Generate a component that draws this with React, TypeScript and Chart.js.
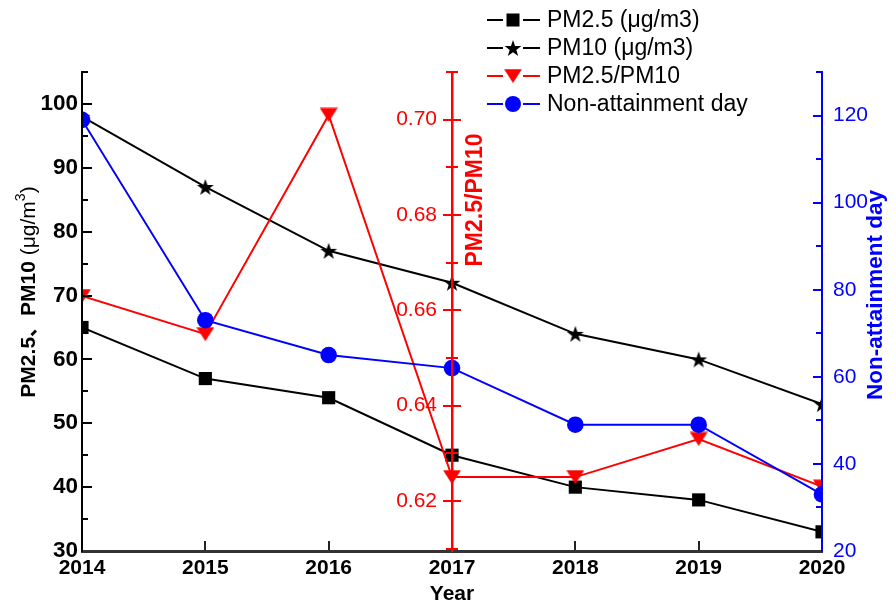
import { useEffect, useRef } from "react";
import { Chart, registerables } from "chart.js";

Chart.register(...registerables);

// Annual air-quality series
const years = [2014, 2015, 2016, 2017, 2018, 2019, 2020];
const pm25 = [65, 57, 54, 45, 40, 38, 33];
const pm10 = [98, 87, 77, 72, 64, 60, 53];
const pmRatio = [0.663, 0.655, 0.701, 0.625, 0.625, 0.633, 0.623];
const nonAttainmentDays = [119, 73, 65, 62, 49, 49, 33];

const seriesNames = ["PM2.5 (μg/m3)", "PM10 (μg/m3)", "PM2.5/PM10", "Non-attainment day"];
const ratioTickLabels = ["0.62", "0.64", "0.66", "0.68", "0.70"];

const FONT = '"Liberation Sans", Arial, "Noto Sans CJK SC", sans-serif';
const RED = "#ff0000";
const BLUE = "#0000ff";

function markerCanvas(w: number, h: number, paint: (ctx: CanvasRenderingContext2D) => void) {
  const c = document.createElement("canvas");
  c.width = w;
  c.height = h;
  const ctx = c.getContext("2d") as CanvasRenderingContext2D;
  paint(ctx);
  return c;
}

// filled five-point star
const starMarker = markerCanvas(18, 18, (ctx) => {
  ctx.fillStyle = "#000";
  ctx.beginPath();
  for (let i = 0; i < 10; i++) {
    const r = i % 2 === 0 ? 8.8 : 3.5;
    const a = -Math.PI / 2 + (i * Math.PI) / 5;
    const px = 9 + r * Math.cos(a);
    const py = 9.8 + r * Math.sin(a);
    if (i === 0) ctx.moveTo(px, py);
    else ctx.lineTo(px, py);
  }
  ctx.closePath();
  ctx.fill();
});

// filled downward triangle
const triangleMarker = markerCanvas(18, 15, (ctx) => {
  ctx.fillStyle = RED;
  ctx.beginPath();
  ctx.moveTo(0, 0.5);
  ctx.lineTo(18, 0.5);
  ctx.lineTo(9, 14.5);
  ctx.closePath();
  ctx.fill();
});

function seg(ctx: CanvasRenderingContext2D, x1: number, y1: number, x2: number, y2: number) {
  ctx.beginPath();
  ctx.moveTo(x1, y1);
  ctx.lineTo(x2, y2);
  ctx.stroke();
}

// scale layers drawn after the series
const onTop = { z: 1 };

const decorations = {
  id: "decorations",
  afterDatasetsDraw(chart: any) {
    const { ctx, chartArea: area, scales, width, height } = chart;
    // markers at the first and last year stop at the plot frame;
    // tick labels and axis lines are drawn after this (z: 1)
    ctx.clearRect(0, 0, width, area.top);
    ctx.clearRect(0, area.bottom, width, height - area.bottom);
    ctx.clearRect(0, area.top, area.left, area.bottom - area.top);
    ctx.clearRect(area.right, area.top, width - area.right, area.bottom - area.top);

    const sx = scales.x;
    const sy = scales.y;
    const sd = scales.yDays;
    ctx.save();
    // left axis: inward ticks, long on tens
    ctx.strokeStyle = "#000";
    ctx.lineWidth = 2;
    for (let v = 30; v <= 105; v += 5) {
      const py = Math.round(sy.getPixelForValue(v));
      seg(ctx, area.left, py, area.left + (v % 10 === 0 ? 10 : 6), py);
    }
    // bottom axis: upward ticks at every year
    ctx.strokeStyle = "#222";
    for (const yr of years) {
      const px = Math.round(sx.getPixelForValue(yr));
      seg(ctx, px, area.bottom, px, area.bottom - 10);
    }
    // right axis: inward ticks
    ctx.strokeStyle = BLUE;
    for (let v = 20; v <= 130; v += 10) {
      const py = Math.round(sd.getPixelForValue(v));
      seg(ctx, area.right, py, area.right - (v % 20 === 0 ? 9 : 6), py);
    }
    ctx.restore();
  },
  afterDraw(chart: any) {
    const { ctx, chartArea: area, scales } = chart;
    const sx = scales.x;
    const sr = scales.yRatio;
    ctx.save();

    // ratio axis: crossing ticks and labels
    const ax = Math.round(sx.getPixelForValue(2017));
    ctx.strokeStyle = RED;
    ctx.lineWidth = 2;
    for (let k = 61; k <= 71; k++) {
      const v = k / 100;
      if (v < sr.min || v > sr.max + 1e-9) continue;
      const py = Math.round(sr.getPixelForValue(v));
      const half = k % 2 === 0 ? 9 : 6;
      seg(ctx, ax - half, py, ax + half, py);
    }
    ctx.fillStyle = RED;
    ctx.font = `21px ${FONT}`;
    ctx.textAlign = "right";
    ctx.textBaseline = "middle";
    for (const t of ratioTickLabels) {
      ctx.fillText(t, ax - 15, sr.getPixelForValue(parseFloat(t)));
    }

    // axis titles
    ctx.textAlign = "center";
    ctx.fillStyle = "#000";
    ctx.font = `bold 21px ${FONT}`;
    ctx.fillText("Year", (area.left + area.right) / 2, 594);

    ctx.save();
    ctx.translate(476, 200);
    ctx.rotate(-Math.PI / 2);
    ctx.fillStyle = RED;
    ctx.font = `bold 23px ${FONT}`;
    ctx.fillText("PM2.5/PM10", 0, 0);
    ctx.restore();

    ctx.save();
    ctx.translate(876, 295);
    ctx.rotate(-Math.PI / 2);
    ctx.fillStyle = BLUE;
    ctx.font = `bold 22.5px ${FONT}`;
    ctx.fillText("Non-attainment day", 0, 0);
    ctx.restore();

    ctx.save();
    ctx.translate(29, 292);
    ctx.rotate(-Math.PI / 2);
    ctx.fillStyle = "#000";
    ctx.textAlign = "left";
    const parts = [
      { t: "PM2.5、PM10 ", f: `bold 21px ${FONT}`, dy: 0 },
      { t: "(μg/m", f: `21px ${FONT}`, dy: 0 },
      { t: "3", f: `14px ${FONT}`, dy: -8 },
      { t: ")", f: `21px ${FONT}`, dy: 0 },
    ];
    let total = 0;
    for (const p of parts) {
      ctx.font = p.f;
      total += ctx.measureText(p.t).width;
    }
    let cx = -total / 2;
    for (const p of parts) {
      ctx.font = p.f;
      ctx.fillText(p.t, cx, p.dy);
      cx += ctx.measureText(p.t).width;
    }
    ctx.restore();

    // legend
    const rows = [20, 48, 76, 104];
    const lx1 = 487;
    const lx2 = 540;
    const mx = 513;
    chart.data.datasets.forEach((ds: any, i: number) => {
      const y = rows[i];
      ctx.strokeStyle = ds.borderColor;
      ctx.lineWidth = 2;
      seg(ctx, lx1, y, mx - 10, y);
      seg(ctx, mx + 10, y, lx2, y);
      ctx.fillStyle = ds.backgroundColor;
      if (ds.pointStyle === "rect") {
        ctx.fillRect(mx - 6.5, y - 6.5, 13, 13);
      } else if (ds.pointStyle === "circle") {
        ctx.beginPath();
        ctx.arc(mx, y, 8, 0, Math.PI * 2);
        ctx.fill();
      } else {
        const img = ds.pointStyle as HTMLCanvasElement;
        ctx.drawImage(img, mx - img.width / 2, y - img.height / 2);
      }
      ctx.fillStyle = "#000";
      ctx.font = `23px ${FONT}`;
      ctx.textAlign = "left";
      ctx.textBaseline = "middle";
      ctx.fillText(ds.label, 547, y + 1);
    });

    ctx.restore();
  },
};

export default function App() {
  const canvasRef = useRef<HTMLCanvasElement | null>(null);

  useEffect(() => {
    document.body.style.margin = "0";
    const canvas = canvasRef.current;
    if (!canvas) return;

    const pts = (vals: number[]) => years.map((x, i) => ({ x, y: vals[i] }));

    const chart = new Chart(canvas, {
      type: "line",
      data: {
        datasets: [
          {
            label: seriesNames[0],
            data: pts(pm25),
            yAxisID: "y",
            borderColor: "#000",
            backgroundColor: "#000",
            borderWidth: 2,
            pointStyle: "rect",
            pointRadius: 9.3,
            pointBorderWidth: 0,
            order: 3,
          },
          {
            label: seriesNames[1],
            data: pts(pm10),
            yAxisID: "y",
            borderColor: "#000",
            backgroundColor: "#000",
            borderWidth: 2,
            pointStyle: starMarker as any,
            pointRadius: 9,
            order: 2,
          },
          {
            label: seriesNames[2],
            data: pts(pmRatio),
            yAxisID: "yRatio",
            borderColor: RED,
            backgroundColor: RED,
            borderWidth: 2,
            pointStyle: triangleMarker as any,
            pointRadius: 9,
            order: 1,
          },
          {
            label: seriesNames[3],
            data: pts(nonAttainmentDays),
            yAxisID: "yDays",
            borderColor: BLUE,
            backgroundColor: BLUE,
            borderWidth: 2,
            pointStyle: "circle",
            pointRadius: 8.3,
            pointBorderWidth: 0,
            order: 0,
          },
        ] as any,
      },
      options: {
        animation: false,
        responsive: false,
        devicePixelRatio: 1,
        layout: { padding: { top: 72, left: 0, right: 0, bottom: 0 } },
        plugins: { legend: { display: false }, tooltip: { enabled: false } },
        scales: {
          x: {
            type: "linear",
            position: "bottom",
            min: 2014,
            max: 2020,
            grid: { display: false, drawTicks: false },
            border: { color: "#333", width: 3, ...onTop },
            ticks: {
              ...onTop,
              stepSize: 1,
              autoSkip: false,
              maxRotation: 0,
              padding: 5,
              color: "#000",
              font: { family: FONT, size: 21, weight: "bold" },
              callback: (v: any) => String(v),
            },
            afterFit: (s: any) => {
              s.height = 56;
            },
          },
          y: {
            type: "linear",
            position: "left",
            min: 30,
            max: 105,
            grid: { display: false, drawTicks: false },
            border: { color: "#000", width: 2, ...onTop },
            ticks: {
              ...onTop,
              stepSize: 10,
              includeBounds: false,
              padding: 4,
              color: "#000",
              font: { family: FONT, size: 22.5, weight: "bold" },
            },
            afterFit: (s: any) => {
              s.width = 82;
            },
          },
          yRatio: {
            type: "linear",
            position: { x: 2017 } as any,
            min: 0.6095,
            max: 0.71,
            grid: { display: false, drawTicks: false },
            border: { color: RED, width: 2.5, ...onTop },
            ticks: { display: false, ...onTop },
          },
          yDays: {
            type: "linear",
            position: "right",
            min: 20,
            max: 130,
            grid: { display: false, drawTicks: false },
            border: { color: BLUE, width: 2, ...onTop },
            ticks: {
              ...onTop,
              stepSize: 20,
              includeBounds: false,
              padding: 11,
              color: BLUE,
              font: { family: FONT, size: 21 },
            },
            afterFit: (s: any) => {
              s.width = 74;
            },
          },
        } as any,
      },
      plugins: [decorations],
    });

    return () => chart.destroy();
  }, []);

  return <canvas ref={canvasRef} width={896} height={607} style={{ display: "block" }} />;
}
